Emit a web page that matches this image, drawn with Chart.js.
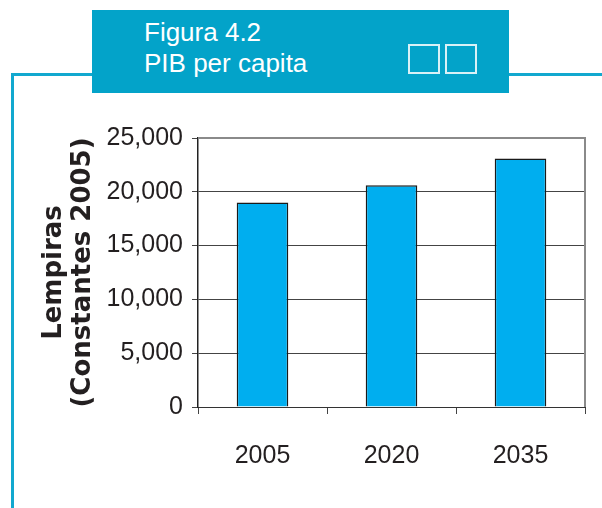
<!DOCTYPE html>
<html>
<head>
<meta charset="utf-8">
<script src="https://cdn.jsdelivr.net/npm/chart.js@4"></script>
<style>
  html, body { margin: 0; padding: 0; background: #fff; }
  body { width: 602px; height: 508px; position: relative; overflow: hidden; }
  #c { position: absolute; left: 0; top: 0; }
  .frame-h { position: absolute; left: 11px; top: 73px; width: 591px; height: 3px; background: #12A8CF; }
  .frame-v { position: absolute; left: 11px; top: 73px; width: 3px; height: 435px; background: #12A8CF; }
  .banner { position: absolute; left: 92px; top: 10px; width: 417px; height: 83px; background: #03A3C9; z-index: 2; }
  .title { position: absolute; left: 144px; top: 17px; color: #fff; font-family: "Liberation Sans", Arial, sans-serif; font-size: 26px; line-height: 31px; z-index: 3; white-space: nowrap; }
  .sq { position: absolute; top: 44px; width: 28px; height: 26px; border: 2px solid rgba(255,255,255,0.85); z-index: 3; }
</style>
</head>
<body>
<div class="frame-h"></div>
<div class="frame-v"></div>
<div class="banner"></div>
<div class="title">Figura 4.2<br>PIB per capita</div>
<div class="sq" style="left:408px"></div>
<div class="sq" style="left:445px"></div>
<canvas id="c" width="602" height="508"></canvas>
<script>
const categories = ['2005', '2020', '2035'];
const pibValues = [19000, 20600, 23100];
const yTickValues = [0, 5000, 10000, 15000, 20000, 25000];
const yTitleLines = ['Lempiras', '(Constantes 2005)'];

const borderPlugin = {
  id: 'plotBorder',
  beforeDatasetsDraw(chart) {
    const {ctx, chartArea: a} = chart;
    ctx.save();
    ctx.strokeStyle = '#8a8a8a';
    ctx.lineWidth = 2;
    ctx.beginPath();
    ctx.moveTo(a.left, a.top);
    ctx.lineTo(a.right, a.top);
    ctx.lineTo(a.right, a.bottom);
    ctx.stroke();
    ctx.restore();
  }
};

const tickFont = { family: '"Liberation Sans", Arial, sans-serif', size: 25, lineHeight: 1.2 };

new Chart(document.getElementById('c'), {
  type: 'bar',
  data: {
    labels: categories,
    datasets: [{
      data: pibValues,
      backgroundColor: '#00AEEF',
      borderColor: '#1a1a1a',
      borderWidth: 1.5,
      barPercentage: 0.4,
      categoryPercentage: 1.0
    }]
  },
  options: {
    responsive: false,
    devicePixelRatio: 1,
    animation: false,
    layout: { padding: { left: 0, top: 138, right: 17, bottom: 0 } },
    plugins: { legend: { display: false }, tooltip: { enabled: false } },
    scales: {
      x: {
        afterFit(scale) { scale.height = 101; },
        grid: { drawOnChartArea: false, drawTicks: true, tickLength: 7, color: '#444', offset: true },
        border: { display: true, color: '#333', width: 1 },
        ticks: { color: '#231F20', padding: 27, font: tickFont }
      },
      y: {
        min: 0,
        max: 25000,
        afterFit(scale) { scale.width = 198; },
        afterBuildTicks(scale) { scale.ticks = yTickValues.map(v => ({ value: v })); },
        grid: { color: '#444', lineWidth: 1, tickLength: 6, drawTicks: true },
        border: { display: true, color: '#222', width: 1.5 },
        ticks: {
          color: '#231F20',
          padding: 9,
          font: tickFont,
          callback: (v) => v.toLocaleString('en-US')
        },
        title: {
          display: true,
          text: yTitleLines,
          color: '#231F20',
          padding: { top: 40, bottom: 0 },
          font: { family: '"DejaVu Sans", sans-serif', weight: 'bold', size: 26, lineHeight: 1.12 }
        }
      }
    }
  },
  plugins: [borderPlugin]
});
</script>
</body>
</html>
